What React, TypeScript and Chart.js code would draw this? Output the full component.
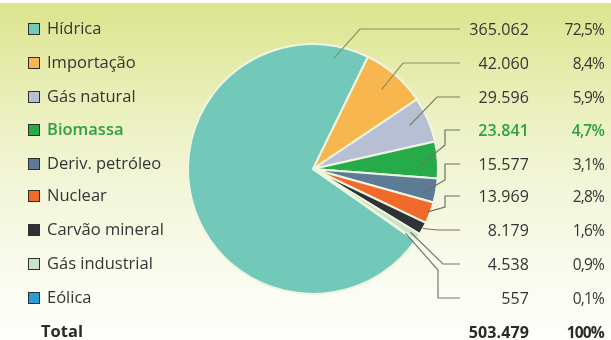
import React, { useEffect, useRef } from "react";
import { Chart, registerables } from "chart.js";

Chart.register(...registerables);

const categories = [
  "Hídrica",
  "Importação",
  "Gás natural",
  "Biomassa",
  "Deriv. petróleo",
  "Nuclear",
  "Carvão mineral",
  "Gás industrial",
  "Eólica",
];
const values = [365062, 42060, 29596, 23841, 15577, 13969, 8179, 4538, 557];
const valueLabels = ["365.062", "42.060", "29.596", "23.841", "15.577", "13.969", "8.179", "4.538", "557"];
const pctLabels = ["72,5%", "8,4%", "5,9%", "4,7%", "3,1%", "2,8%", "1,6%", "0,9%", "0,1%"];
const totalLabel = "Total";
const totalValue = "503.479";
const totalPct = "100%";
const highlighted = "Biomassa";

const colors = ["#72c8b9", "#f8b64e", "#b6bfd4", "#27ab49", "#5d7b95", "#f06a2a", "#2f3336", "#c9e5c4", "#2a9cd6"];

// layout (not data)
const ROW_Y = [29, 63, 97, 130, 164, 196, 230, 264, 298];
const TOTAL_Y = 332;
const CX = 313;
const CY = 169;
const R = 125;
const LINE_END_X = 460;
// anchor position in slice: [fraction of angle, fraction of radius], then bend points (y=null => row y)
const leaders: { f: number; r: number; pts: [number, number | null][]; c: string }[] = [
  { f: 0.941, r: 0.9, pts: [[360, null]], c: "#8d9160" },
  { f: 0.49, r: 0.84, pts: [[403, null]], c: "#8d9160" },
  { f: 0.45, r: 0.85, pts: [[437, null]], c: "#7d8060" },
  { f: 0.7, r: 0.84, pts: [[445, 145], [445, null]], c: "#6f7560" },
  { f: 0.7, r: 0.9, pts: [[445, 180], [445, null]], c: "#6f7060" },
  { f: 0.5, r: 0.98, pts: [[445, 207], [445, null]], c: "#6f6f66" },
  { f: 0.5, r: 1.0, pts: [[438, null]], c: "#77736a" },
  { f: 0.5, r: 0.93, pts: [[443, null]], c: "#777" },
  { f: 0.5, r: 0.9, pts: [[438, 270], [438, null]], c: "#777" },
];

const leaderPlugin = {
  id: "leaders",
  afterDatasetsDraw(chart: any) {
    const ctx = chart.ctx;
    const meta = chart.getDatasetMeta(0);
    ctx.save();
    ctx.lineWidth = 1.2;
    meta.data.forEach((arc: any, i: number) => {
      const p = arc.getProps(["x", "y", "startAngle", "endAngle", "outerRadius"], true);
      const L = leaders[i];
      const a = p.startAngle + L.f * (p.endAngle - p.startAngle);
      const ax = p.x + Math.cos(a) * p.outerRadius * L.r;
      const ay = p.y + Math.sin(a) * p.outerRadius * L.r;
      ctx.strokeStyle = L.c;
      ctx.beginPath();
      ctx.moveTo(ax, ay);
      L.pts.forEach(([x, y]) => ctx.lineTo(x, y === null ? ROW_Y[i] : y));
      ctx.lineTo(LINE_END_X, ROW_Y[i]);
      ctx.stroke();
    });
    ctx.restore();
  },
};

const FONT = "'Open Sans', 'DejaVu Sans', sans-serif";

export default function App() {
  const ref = useRef<HTMLCanvasElement | null>(null);
  useEffect(() => {
    if (!ref.current) return;
    const box = 2 * (R + 5);
    const chart = new Chart(ref.current, {
      type: "pie",
      data: {
        labels: categories,
        datasets: [
          {
            data: values,
            backgroundColor: colors,
            borderColor: "#eef6e2",
            borderWidth: 2,
          },
        ],
      },
      options: {
        animation: false,
        responsive: false,
        maintainAspectRatio: false,
        rotation: 125,
        radius: R,
        layout: {
          padding: {
            left: CX - box / 2,
            right: 611 - (CX + box / 2),
            top: CY - box / 2,
            bottom: 340 - (CY + box / 2),
          },
        },
        plugins: { legend: { display: false }, tooltip: { enabled: false } },
      },
      plugins: [leaderPlugin],
    });
    return () => chart.destroy();
  }, []);

  const textBase: React.CSSProperties = {
    position: "absolute",
    fontFamily: FONT,
    fontSize: 16.5,
    lineHeight: "20px",
    color: "#353535",
    whiteSpace: "nowrap",
  };
  const numBase: React.CSSProperties = { ...textBase, fontSize: 16, letterSpacing: "0.1px" };
  const pctBase: React.CSSProperties = { ...textBase, fontSize: 15.5, letterSpacing: "-0.8px" };

  return (
    <div
      style={{
        position: "absolute",
        left: 0,
        top: 0,
        width: 611,
        height: 340,
        overflow: "hidden",
        background:
          "linear-gradient(180deg, #ffffff 0px, #ffffff 3px, #dbe48d 3px, #e4eba8 60px, #edf2c6 130px, #f4f7dc 200px, #fafbee 270px, #fefefb 340px)",
      }}
    >
      <canvas ref={ref} width={611} height={340} style={{ position: "absolute", left: 0, top: 0, width: 611, height: 340 }} />
      {categories.map((c, i) => {
        const hl = c === highlighted;
        const color = hl ? "#2f9e45" : "#353535";
        const fw = hl ? 600 : 400;
        return (
          <React.Fragment key={c}>
            <div
              style={{
                position: "absolute",
                left: 28,
                top: ROW_Y[i] - 6,
                width: 10,
                height: 10,
                background: colors[i],
                border: "1.5px solid #2e2e2e",
              }}
            />
            <div style={{ ...textBase, left: 47, top: ROW_Y[i] - 11, color, fontWeight: fw }}>{c}</div>
            <div style={{ ...numBase, right: 82, top: ROW_Y[i] - 10.5, color, fontWeight: fw }}>{valueLabels[i]}</div>
            <div style={{ ...pctBase, right: 7, top: ROW_Y[i] - 10.5, color, fontWeight: fw }}>{pctLabels[i]}</div>
          </React.Fragment>
        );
      })}
      <div style={{ ...textBase, left: 41, top: TOTAL_Y - 11, fontWeight: 700, color: "#2a2a2a" }}>{totalLabel}</div>
      <div style={{ ...numBase, right: 82, top: TOTAL_Y - 10.5, fontWeight: 700, color: "#2a2a2a" }}>{totalValue}</div>
      <div style={{ ...pctBase, right: 7, top: TOTAL_Y - 10.5, fontWeight: 700, color: "#2a2a2a" }}>{totalPct}</div>
    </div>
  );
}
